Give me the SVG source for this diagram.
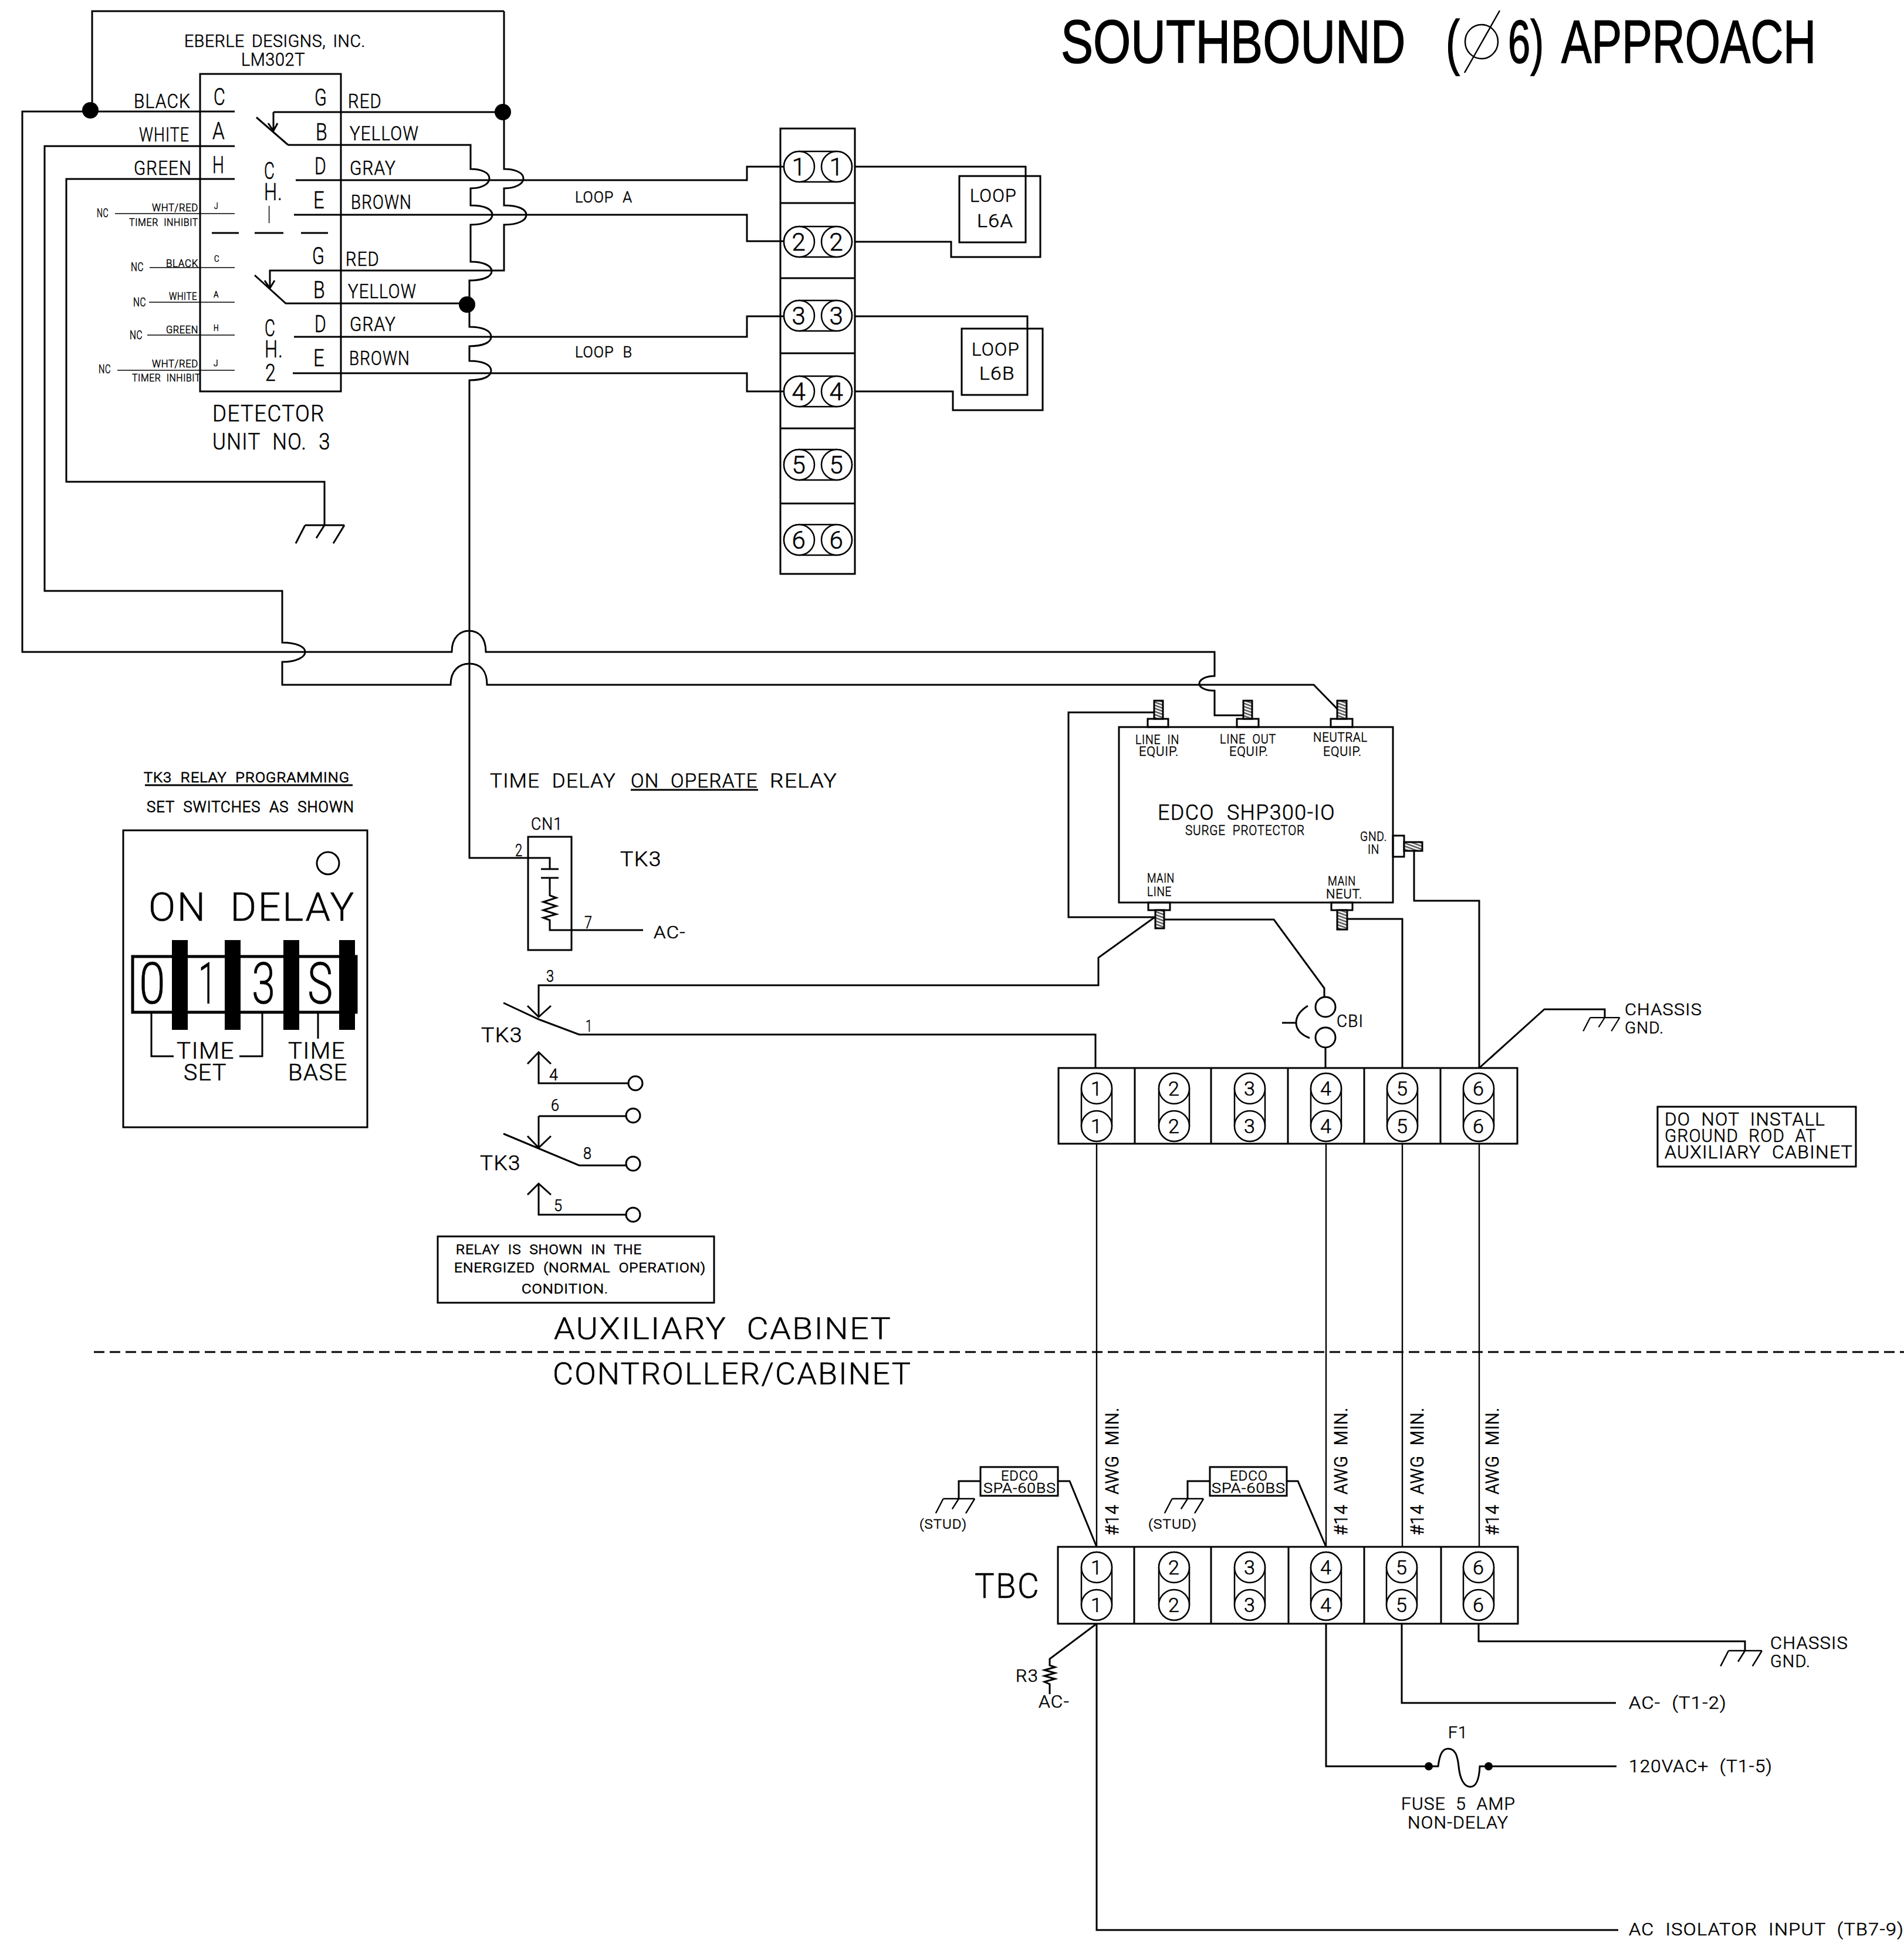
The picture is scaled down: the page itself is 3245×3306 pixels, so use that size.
<svg xmlns="http://www.w3.org/2000/svg" xmlns:xlink="http://www.w3.org/1999/xlink" width="3245" height="3306" viewBox="0 0 3245 3306">
<style>
text{font-family:"Roboto","Liberation Sans",sans-serif;font-weight:300;fill:#000;stroke:#000;stroke-width:.6px;letter-spacing:.04em;word-spacing:.3em}
.t{font-family:"Liberation Sans",sans-serif;font-weight:400;font-size:103px;stroke-width:1.5px;letter-spacing:0;word-spacing:0}
.m{stroke-width:.9px}
.w{fill:none;stroke:#000;stroke-width:3;stroke-linejoin:miter}
.n{fill:none;stroke:#000;stroke-width:1.6}
.b{fill:none;stroke:#000;stroke-width:5}
.p{fill:#fff;stroke:#000;stroke-width:2.5}
.o{fill:none;stroke:#000;stroke-width:2.5}
.d{fill:#000;stroke:none}
.s{fill:url(#hatch);stroke:#000;stroke-width:3}
.dash{fill:none;stroke:#000;stroke-width:3;stroke-dasharray:18 9}
</style>
<defs>
<pattern id="hatch" width="5" height="5" patternUnits="userSpaceOnUse" patternTransform="rotate(20)"><rect width="5" height="5" fill="#fff"/><rect width="5" height="2.5" fill="#555"/></pattern>
<g id="caph"><rect x="-58" y="-26" width="116" height="52" rx="26" class="o"/><circle cx="-32" r="26" class="p"/><circle cx="32" r="26" class="p"/></g>
<g id="capv"><rect x="-26" y="-58" width="52" height="116" rx="26" class="o"/><circle cy="-32" r="26" class="p"/><circle cy="32" r="26" class="p"/></g>
<g id="gnd"><path class="w" d="M-33,0H34M-33,0L-49,31M0,0L-14,22M34,0L15,31"/></g>
</defs>

<g id="connectors">
<path class="w" d="M859,19H157V190"/>
<path class="w" d="M859,19V288C877,288 892,294 892,304C892,314 877,321 859,321V350C882,350 897,356 897,366C897,376 882,383 859,383V461H460V491"/>
<path class="w" d="M466,191H859M466,191V223M457,210L466,223L473,210M437,200L491,247"/>
<path class="w" d="M451,478L460,491L468,478M434,469L487,517H796"/>
<path class="w" d="M491,247H802V288C820,288 834,294 834,304C834,314 820,321 802,321V350C825,350 839,356 839,366C839,376 825,383 802,383V446C822,446 838,452 838,462C838,472 822,478 800,478V557C822,557 837,563 837,574C837,584 822,590 800,590V615C822,615 837,621 837,632C837,642 822,648 800,648V1462H937V1481"/>
<path class="w" d="M504,307H1273V284H1336M501,366H1273V411H1336M501,574H1273V539H1336M499,636H1273V667H1336"/>
<path class="w" d="M400,190H38V1111H770C770,1085 785,1075 799,1075C815,1075 828,1085 828,1111H2070V1152C2055,1152 2044,1158 2044,1165C2044,1172 2055,1177 2070,1177V1219H2119"/>
<path class="w" d="M400,249H76V1007H481V1095C505,1095 520,1102 520,1111C520,1120 505,1128 481,1128V1167H768C768,1142 783,1131 800,1131C818,1131 830,1142 830,1167H2239L2279,1208"/>
<path class="w" d="M400,305H113V821H553V895"/>
<path class="n" d="M196,364H400M255,456H400M254,515H400M251,571H400M200,631H400"/>
<path class="w" d="M1458,284H1748V300M1458,412H1621V438H1773V300H1748M1458,539H1751V560M1458,667H1624V699H1777V560H1751"/>
<path class="w" d="M937,1496V1526L948,1530L926,1537L948,1544L926,1551L948,1558L926,1564L937,1568V1585H1096"/>
<path class="w" d="M918,1733V1679H1872V1632L1968,1563H1821V1214H1967"/>
<path class="w" d="M899,1714L918,1733L939,1714M858,1709L918,1737L987,1763H1867V1820"/>
<path class="w" d="M899,1813L918,1793L939,1813M918,1793V1846H1071"/>
<path class="w" d="M918,1902H1068M918,1902V1956M899,1936L918,1956L939,1936M858,1932L987,1986H1068"/>
<path class="w" d="M899,2036L918,2017L939,2036M918,2017V2070H1068"/>
<path class="w" d="M1984,1567H2171L2257,1684V1700M2259,1785V1820"/>
<path class="w" d="M2185,1743H2209M2229,1714C2216,1722 2209,1732 2209,1743C2209,1755 2217,1763 2232,1769"/>
<path class="w" d="M2297,1566H2390V1820M2410,1451V1535H2521V1820M2521,1820L2632,1720H2735V1734"/>
<path class="n" style="stroke-width:2.4" d="M1869,1949V2636M2260,1949V2636M2390,1949V2636M2521,1949V2636"/>
<path class="dash" d="M160,2304H3245"/>
<path class="w" d="M1869,2767V3289H2758M2260,2767V3010H2435M2389,2767V2902H2754M2520,2767V2797H2974V2813M2537,3010H2755"/>
<path class="w" d="M2435,3010H2451C2454,2986 2460,2980 2468,2980C2480,2980 2484,2991 2486,3010C2488,3031 2495,3045 2506,3045C2516,3045 2521,3031 2522,3010H2537"/>
<path class="w" d="M1869,2767L1789,2827V2838L1798,2841L1780,2846L1798,2851L1780,2856L1798,2861L1780,2866L1789,2870V2887"/>
<path class="w" d="M1671,2524H1634V2554M1803,2524H1823L1869,2636M2062,2524H2024V2554M2193,2524H2212L2260,2636"/>
<circle class="d" cx="154" cy="188" r="14"/>
<circle class="d" cx="857" cy="191" r="14"/>
<circle class="d" cx="796" cy="519" r="14"/>
<circle class="d" cx="2435" cy="3010" r="7"/>
<circle class="d" cx="2537" cy="3010" r="7"/>
<use href="#gnd" x="553" y="895"/>
<use href="#gnd" transform="translate(2735 1734) scale(.75)"/>
<use href="#gnd" transform="translate(2974 2813) scale(.85)"/>
<use href="#gnd" transform="translate(1634 2554) scale(.8)"/>
<use href="#gnd" transform="translate(2024 2554) scale(.8)"/>
</g>

<g id="title">
<text class="t" transform="translate(1808 107) scale(.802 1)">SOUTHBOUND</text>
<text class="t" transform="translate(2464 107) scale(.7 1)">(</text>
<ellipse cx="2525" cy="71" rx="28" ry="29" class="o"/>
<path class="o" d="M2556,18L2496,124"/>
<text class="t" transform="translate(2570 107) scale(.666 1)">6)</text>
<text class="t" transform="translate(2661 107) scale(.751 1)">APPROACH</text>
</g>

<g id="detector-unit">
<rect x="341" y="126" width="240" height="541" class="w"/>
<path class="w" d="M361,397H407M434,397H483M513,397H559"/>
<text><tspan x="314" y="80" font-size="30" textLength="309" lengthAdjust="spacingAndGlyphs">EBERLE DESIGNS, INC.</tspan><tspan x="411" y="112" font-size="31" textLength="109" lengthAdjust="spacingAndGlyphs">LM302T</tspan></text>
<text x="228" y="184" font-size="34" textLength="97" lengthAdjust="spacingAndGlyphs">BLACK</text>
<text x="237" y="241" font-size="34" textLength="86" lengthAdjust="spacingAndGlyphs">WHITE</text>
<text x="228" y="298" font-size="34" textLength="99" lengthAdjust="spacingAndGlyphs">GREEN</text>
<text x="364" y="179" font-size="41" textLength="21" lengthAdjust="spacingAndGlyphs">C</text>
<text x="362" y="237" font-size="41" textLength="22" lengthAdjust="spacingAndGlyphs">A</text>
<text x="362" y="295" font-size="41" textLength="21" lengthAdjust="spacingAndGlyphs">H</text>
<text x="536" y="180" font-size="41" textLength="22" lengthAdjust="spacingAndGlyphs">G</text>
<text x="538" y="239" font-size="41" textLength="21" lengthAdjust="spacingAndGlyphs">B</text>
<text x="536" y="297" font-size="41" textLength="21" lengthAdjust="spacingAndGlyphs">D</text>
<text x="534" y="355" font-size="41" textLength="20" lengthAdjust="spacingAndGlyphs">E</text>
<text x="593" y="184" font-size="34" textLength="58" lengthAdjust="spacingAndGlyphs">RED</text>
<text x="596" y="239" font-size="34" textLength="118" lengthAdjust="spacingAndGlyphs">YELLOW</text>
<text x="596" y="298" font-size="34" textLength="79" lengthAdjust="spacingAndGlyphs">GRAY</text>
<text x="598" y="356" font-size="34" textLength="104" lengthAdjust="spacingAndGlyphs">BROWN</text>
<text font-size="41"><tspan x="450" y="305" textLength="19" lengthAdjust="spacingAndGlyphs">C</tspan><tspan x="450" y="341" textLength="32" lengthAdjust="spacingAndGlyphs">H.</tspan><tspan x="456" y="380" textLength="6" lengthAdjust="spacingAndGlyphs">I</tspan></text>
<text x="165" y="370" font-size="20" textLength="20" lengthAdjust="spacingAndGlyphs">NC</text>
<text font-size="19"><tspan x="259" y="360" textLength="79" lengthAdjust="spacingAndGlyphs">WHT/RED</tspan><tspan x="220" y="385" textLength="118" lengthAdjust="spacingAndGlyphs">TIMER INHIBIT</tspan></text>
<text x="365" y="356" font-size="15" textLength="7" lengthAdjust="spacingAndGlyphs">J</text>
<text x="532" y="450" font-size="41" textLength="22" lengthAdjust="spacingAndGlyphs">G</text>
<text x="534" y="508" font-size="41" textLength="21" lengthAdjust="spacingAndGlyphs">B</text>
<text x="536" y="566" font-size="41" textLength="21" lengthAdjust="spacingAndGlyphs">D</text>
<text x="534" y="624" font-size="41" textLength="20" lengthAdjust="spacingAndGlyphs">E</text>
<text x="589" y="453" font-size="34" textLength="58" lengthAdjust="spacingAndGlyphs">RED</text>
<text x="593" y="508" font-size="34" textLength="117" lengthAdjust="spacingAndGlyphs">YELLOW</text>
<text x="596" y="564" font-size="34" textLength="79" lengthAdjust="spacingAndGlyphs">GRAY</text>
<text x="595" y="622" font-size="34" textLength="104" lengthAdjust="spacingAndGlyphs">BROWN</text>
<text x="283" y="455" font-size="19" textLength="55" lengthAdjust="spacingAndGlyphs">BLACK</text>
<text x="365" y="446" font-size="15" textLength="9" lengthAdjust="spacingAndGlyphs">C</text>
<text x="223" y="462" font-size="20" textLength="22" lengthAdjust="spacingAndGlyphs">NC</text>
<text x="288" y="511" font-size="19" textLength="48" lengthAdjust="spacingAndGlyphs">WHITE</text>
<text x="364" y="507" font-size="15" textLength="9" lengthAdjust="spacingAndGlyphs">A</text>
<text x="227" y="522" font-size="20" textLength="22" lengthAdjust="spacingAndGlyphs">NC</text>
<text x="283" y="568" font-size="19" textLength="55" lengthAdjust="spacingAndGlyphs">GREEN</text>
<text x="364" y="564" font-size="15" textLength="9" lengthAdjust="spacingAndGlyphs">H</text>
<text x="221" y="578" font-size="20" textLength="22" lengthAdjust="spacingAndGlyphs">NC</text>
<text font-size="19"><tspan x="259" y="626" textLength="79" lengthAdjust="spacingAndGlyphs">WHT/RED</tspan><tspan x="225" y="650" textLength="117" lengthAdjust="spacingAndGlyphs">TIMER INHIBIT</tspan></text>
<text x="364" y="624" font-size="15" textLength="8" lengthAdjust="spacingAndGlyphs">J</text>
<text x="168" y="636" font-size="20" textLength="21" lengthAdjust="spacingAndGlyphs">NC</text>
<text font-size="41"><tspan x="451" y="573" textLength="19" lengthAdjust="spacingAndGlyphs">C</tspan><tspan x="451" y="609" textLength="32" lengthAdjust="spacingAndGlyphs">H.</tspan><tspan x="452" y="649" textLength="19" lengthAdjust="spacingAndGlyphs">2</tspan></text>
<text font-size="38"><tspan x="362" y="718" textLength="192" lengthAdjust="spacingAndGlyphs">DETECTOR</tspan><tspan x="362" y="766" textLength="202" lengthAdjust="spacingAndGlyphs">UNIT NO. 3</tspan></text>
<text x="980" y="345" font-size="25" textLength="98" lengthAdjust="spacingAndGlyphs">LOOP A</text>
<text x="980" y="609" font-size="25" textLength="98" lengthAdjust="spacingAndGlyphs">LOOP B</text>
</g>

<g id="loop-terminal-block" text-anchor="middle">
<path class="w" d="M1330,219H1457V978H1330ZM1330,346H1457M1330,474H1457M1330,602H1457M1330,730H1457M1330,858H1457"/>
<use href="#caph" x="1394" y="284"/><use href="#caph" x="1394" y="412"/><use href="#caph" x="1394" y="538"/><use href="#caph" x="1394" y="667"/><use href="#caph" x="1394" y="792"/><use href="#caph" x="1394" y="920"/>
<text x="1362" y="299" font-size="42">1</text><text x="1426" y="299" font-size="42">1</text>
<text x="1362" y="427" font-size="42">2</text><text x="1426" y="427" font-size="42">2</text>
<text x="1362" y="553" font-size="42">3</text><text x="1426" y="553" font-size="42">3</text>
<text x="1362" y="682" font-size="42">4</text><text x="1426" y="682" font-size="42">4</text>
<text x="1362" y="807" font-size="42">5</text><text x="1426" y="807" font-size="42">5</text>
<text x="1362" y="935" font-size="42">6</text><text x="1426" y="935" font-size="42">6</text>
</g>
<g id="loop-l6a">
<rect x="1635" y="300" width="113" height="113" class="w"/>
<text font-size="32"><tspan x="1653" y="344" textLength="80" lengthAdjust="spacingAndGlyphs">LOOP</tspan><tspan x="1665" y="387" textLength="62" lengthAdjust="spacingAndGlyphs">L6A</tspan></text>
</g>
<g id="loop-l6b">
<rect x="1639" y="560" width="112" height="113" class="w"/>
<text font-size="32"><tspan x="1656" y="606" textLength="82" lengthAdjust="spacingAndGlyphs">LOOP</tspan><tspan x="1669" y="647" textLength="61" lengthAdjust="spacingAndGlyphs">L6B</tspan></text>
</g>

<g id="surge-protector">
<rect x="1907" y="1239" width="467" height="299" class="w"/>
<rect x="1956" y="1225" width="35" height="14" class="w"/><rect x="1967" y="1194" width="15" height="31" class="s"/>
<rect x="2108" y="1225" width="37" height="14" class="w"/><rect x="2119" y="1194" width="15" height="31" class="s"/>
<rect x="2268" y="1225" width="37" height="14" class="w"/><rect x="2279" y="1194" width="16" height="31" class="s"/>
<rect x="1957" y="1538" width="37" height="13" class="w"/><rect x="1969" y="1551" width="15" height="31" class="s"/>
<rect x="2269" y="1538" width="36" height="13" class="w"/><rect x="2279" y="1551" width="17" height="33" class="s"/>
<rect x="2374" y="1424" width="19" height="36" class="w"/><rect x="2393" y="1435" width="31" height="15" class="s"/>
<text font-size="22"><tspan x="1935" y="1268" textLength="75" lengthAdjust="spacingAndGlyphs">LINE IN</tspan><tspan x="1941" y="1288" textLength="68" lengthAdjust="spacingAndGlyphs">EQUIP.</tspan></text>
<text font-size="22"><tspan x="2079" y="1267" textLength="96" lengthAdjust="spacingAndGlyphs">LINE OUT</tspan><tspan x="2095" y="1288" textLength="67" lengthAdjust="spacingAndGlyphs">EQUIP.</tspan></text>
<text font-size="22"><tspan x="2238" y="1264" textLength="93" lengthAdjust="spacingAndGlyphs">NEUTRAL</tspan><tspan x="2255" y="1288" textLength="66" lengthAdjust="spacingAndGlyphs">EQUIP.</tspan></text>
<text x="1973" y="1397" font-size="37" textLength="303" lengthAdjust="spacingAndGlyphs">EDCO SHP300-IO</text>
<text x="2020" y="1423" font-size="24" textLength="204" lengthAdjust="spacingAndGlyphs">SURGE PROTECTOR</text>
<text font-size="22"><tspan x="2318" y="1433" textLength="46" lengthAdjust="spacingAndGlyphs">GND.</tspan><tspan x="2331" y="1455" textLength="20" lengthAdjust="spacingAndGlyphs">IN</tspan></text>
<text font-size="22"><tspan x="1955" y="1504" textLength="47" lengthAdjust="spacingAndGlyphs">MAIN</tspan><tspan x="1955" y="1527" textLength="42" lengthAdjust="spacingAndGlyphs">LINE</tspan></text>
<text font-size="22"><tspan x="2263" y="1509" textLength="48" lengthAdjust="spacingAndGlyphs">MAIN</tspan><tspan x="2260" y="1531" textLength="62" lengthAdjust="spacingAndGlyphs">NEUT.</tspan></text>
</g>

<g id="cb1">
<circle cx="2259" cy="1716" r="17" class="w"/><circle cx="2259" cy="1768" r="17" class="w"/>
<text x="2278" y="1750" font-size="29" textLength="46" lengthAdjust="spacingAndGlyphs">CBI</text>
</g>

<g id="chassis-gnd-aux">
<text font-size="28"><tspan x="2769" y="1730" textLength="132" lengthAdjust="spacingAndGlyphs">CHASSIS</tspan><tspan x="2769" y="1761" textLength="67" lengthAdjust="spacingAndGlyphs">GND.</tspan></text>
</g>

<g id="aux-terminal-block" text-anchor="middle">
<path class="w" d="M1804,1820H2586V1949H1804ZM1934,1820V1949M2064,1820V1949M2195,1820V1949M2325,1820V1949M2455,1820V1949"/>
<use href="#capv" x="1869" y="1887"/><use href="#capv" x="2001" y="1887"/><use href="#capv" x="2130" y="1887"/><use href="#capv" x="2260" y="1887"/><use href="#capv" x="2390" y="1887"/><use href="#capv" x="2520" y="1887"/>
<text x="1869" y="1867" font-size="34">1</text><text x="1869" y="1931" font-size="34">1</text>
<text x="2001" y="1867" font-size="34">2</text><text x="2001" y="1931" font-size="34">2</text>
<text x="2130" y="1867" font-size="34">3</text><text x="2130" y="1931" font-size="34">3</text>
<text x="2260" y="1867" font-size="34">4</text><text x="2260" y="1931" font-size="34">4</text>
<text x="2390" y="1867" font-size="34">5</text><text x="2390" y="1931" font-size="34">5</text>
<text x="2520" y="1867" font-size="34">6</text><text x="2520" y="1931" font-size="34">6</text>
</g>

<g id="ground-rod-note">
<rect x="2825" y="1886" width="338" height="102" class="w"/>
<text font-size="31"><tspan x="2837" y="1918" textLength="274" lengthAdjust="spacingAndGlyphs">DO NOT INSTALL</tspan><tspan x="2837" y="1946" textLength="259" lengthAdjust="spacingAndGlyphs">GROUND ROD AT</tspan><tspan x="2837" y="1974" textLength="321" lengthAdjust="spacingAndGlyphs">AUXILIARY CABINET</tspan></text>
</g>

<g id="tk3-programming">
<text class="m" x="245" y="1333" font-size="24" textLength="351" lengthAdjust="spacingAndGlyphs">TK3 RELAY PROGRAMMING</text>
<path class="w" d="M247,1338H601"/>
<text class="m" x="250" y="1384" font-size="25" textLength="354" lengthAdjust="spacingAndGlyphs">SET SWITCHES AS SHOWN</text>
<rect x="210" y="1415" width="416" height="506" class="w"/>
<circle cx="559" cy="1471" r="19" class="w"/>
<text x="253" y="1569" font-size="66" textLength="353" lengthAdjust="spacingAndGlyphs">ON DELAY</text>
<rect x="226" y="1630" width="381" height="95" class="b"/>
<rect class="d" x="293" y="1602" width="27" height="153"/><rect class="d" x="383" y="1602" width="27" height="153"/><rect class="d" x="483" y="1602" width="27" height="153"/><rect class="d" x="578" y="1602" width="27" height="153"/>
<text x="237" y="1710" font-size="98" textLength="48" lengthAdjust="spacingAndGlyphs">0</text>
<text x="338" y="1710" font-size="98" textLength="33" lengthAdjust="spacingAndGlyphs">1</text>
<text x="429" y="1710" font-size="98" textLength="43" lengthAdjust="spacingAndGlyphs">3</text>
<text x="524" y="1710" font-size="98" textLength="46" lengthAdjust="spacingAndGlyphs">S</text>
<path class="w" d="M258,1725V1800H296M408,1800H447V1725M542,1726V1770"/>
<text font-size="39"><tspan x="301" y="1804" textLength="99" lengthAdjust="spacingAndGlyphs">TIME</tspan><tspan x="313" y="1841" textLength="74" lengthAdjust="spacingAndGlyphs">SET</tspan></text>
<text font-size="39"><tspan x="491" y="1804" textLength="98" lengthAdjust="spacingAndGlyphs">TIME</tspan><tspan x="491" y="1841" textLength="102" lengthAdjust="spacingAndGlyphs">BASE</tspan></text>
</g>

<g id="tk3-relay">
<text x="835" y="1342" font-size="34" textLength="215" lengthAdjust="spacingAndGlyphs">TIME DELAY</text>
<text x="1075" y="1342" font-size="34" textLength="217" lengthAdjust="spacingAndGlyphs">ON OPERATE</text>
<path class="w" d="M1075,1346H1292"/>
<text x="1312" y="1342" font-size="34" textLength="115" lengthAdjust="spacingAndGlyphs">RELAY</text>
<rect x="900" y="1426" width="74" height="193" class="w"/>
<path class="w" d="M922,1481H952M922,1496H952"/>
<text x="905" y="1414" font-size="30" textLength="54" lengthAdjust="spacingAndGlyphs">CN1</text>
<text x="878" y="1459" font-size="30" textLength="13" lengthAdjust="spacingAndGlyphs">2</text>
<text x="996" y="1582" font-size="30" textLength="14" lengthAdjust="spacingAndGlyphs">7</text>
<text x="1057" y="1476" font-size="35" textLength="71" lengthAdjust="spacingAndGlyphs">TK3</text>
<text x="1114" y="1599" font-size="30" textLength="55" lengthAdjust="spacingAndGlyphs">AC-</text>
<text x="820" y="1776" font-size="35" textLength="71" lengthAdjust="spacingAndGlyphs">TK3</text>
<text x="818" y="1994" font-size="35" textLength="70" lengthAdjust="spacingAndGlyphs">TK3</text>
<text x="931" y="1673" font-size="27" textLength="14" lengthAdjust="spacingAndGlyphs">3</text>
<text x="998" y="1758" font-size="27" textLength="12" lengthAdjust="spacingAndGlyphs">1</text>
<text x="936" y="1841" font-size="27" textLength="16" lengthAdjust="spacingAndGlyphs">4</text>
<text x="939" y="1893" font-size="27" textLength="15" lengthAdjust="spacingAndGlyphs">6</text>
<text x="994" y="1975" font-size="27" textLength="15" lengthAdjust="spacingAndGlyphs">8</text>
<text x="944" y="2064" font-size="27" textLength="15" lengthAdjust="spacingAndGlyphs">5</text>
<circle cx="1083" cy="1846" r="12" class="w"/><circle cx="1079" cy="1901" r="12" class="w"/><circle cx="1079" cy="1983" r="12" class="w"/><circle cx="1079" cy="2070" r="12" class="w"/>
</g>

<g id="relay-note">
<rect x="746" y="2107" width="471" height="113" class="w"/>
<text class="m" font-size="22"><tspan x="777" y="2137" textLength="317" lengthAdjust="spacingAndGlyphs">RELAY IS SHOWN IN THE</tspan><tspan x="774" y="2168" textLength="429" lengthAdjust="spacingAndGlyphs">ENERGIZED (NORMAL OPERATION)</tspan><tspan x="889" y="2204" textLength="148" lengthAdjust="spacingAndGlyphs">CONDITION.</tspan></text>
</g>

<g id="cabinet-labels">
<text x="944" y="2282" font-size="51" textLength="576" lengthAdjust="spacingAndGlyphs">AUXILIARY CABINET</text>
<text x="942" y="2359" font-size="51" textLength="612" lengthAdjust="spacingAndGlyphs">CONTROLLER/CABINET</text>
</g>

<g id="wire-notes">
<text class="m" transform="translate(1906 2616) rotate(-90)" font-size="31" textLength="218" lengthAdjust="spacingAndGlyphs">#14 AWG MIN.</text>
<text class="m" transform="translate(2296 2616) rotate(-90)" font-size="31" textLength="218" lengthAdjust="spacingAndGlyphs">#14 AWG MIN.</text>
<text class="m" transform="translate(2426 2616) rotate(-90)" font-size="31" textLength="218" lengthAdjust="spacingAndGlyphs">#14 AWG MIN.</text>
<text class="m" transform="translate(2554 2616) rotate(-90)" font-size="31" textLength="218" lengthAdjust="spacingAndGlyphs">#14 AWG MIN.</text>
</g>

<g id="edco-spa-1">
<rect x="1671" y="2500" width="132" height="49" class="w"/>
<text font-size="24"><tspan x="1706" y="2523" textLength="64" lengthAdjust="spacingAndGlyphs">EDCO</tspan><tspan x="1676" y="2544" textLength="124" lengthAdjust="spacingAndGlyphs">SPA-60BS</tspan></text>
<text x="1567" y="2605" font-size="22" textLength="81" lengthAdjust="spacingAndGlyphs">(STUD)</text>
</g>
<g id="edco-spa-2">
<rect x="2062" y="2500" width="131" height="49" class="w"/>
<text font-size="24"><tspan x="2096" y="2523" textLength="65" lengthAdjust="spacingAndGlyphs">EDCO</tspan><tspan x="2065" y="2544" textLength="126" lengthAdjust="spacingAndGlyphs">SPA-60BS</tspan></text>
<text x="1957" y="2605" font-size="22" textLength="83" lengthAdjust="spacingAndGlyphs">(STUD)</text>
</g>

<g id="tbc-terminal-block" text-anchor="middle">
<path class="w" d="M1803,2636H2587V2767H1803ZM1933,2636V2767M2064,2636V2767M2196,2636V2767M2325,2636V2767M2456,2636V2767"/>
<use href="#capv" x="1869" y="2703"/><use href="#capv" x="2001" y="2703"/><use href="#capv" x="2130" y="2703"/><use href="#capv" x="2260" y="2703"/><use href="#capv" x="2389" y="2703"/><use href="#capv" x="2520" y="2703"/>
<text x="1869" y="2683" font-size="34">1</text><text x="1869" y="2747" font-size="34">1</text>
<text x="2001" y="2683" font-size="34">2</text><text x="2001" y="2747" font-size="34">2</text>
<text x="2130" y="2683" font-size="34">3</text><text x="2130" y="2747" font-size="34">3</text>
<text x="2260" y="2683" font-size="34">4</text><text x="2260" y="2747" font-size="34">4</text>
<text x="2389" y="2683" font-size="34">5</text><text x="2389" y="2747" font-size="34">5</text>
<text x="2520" y="2683" font-size="34">6</text><text x="2520" y="2747" font-size="34">6</text>
</g>
<g id="tbc-labels">
<text x="1661" y="2723" font-size="59" textLength="112" lengthAdjust="spacingAndGlyphs">TBC</text>
<text font-size="30"><tspan x="1731" y="2866" textLength="39" lengthAdjust="spacingAndGlyphs">R3</tspan><tspan x="1770" y="2910" textLength="53" lengthAdjust="spacingAndGlyphs">AC-</tspan></text>
<text font-size="29"><tspan x="3017" y="2810" textLength="133" lengthAdjust="spacingAndGlyphs">CHASSIS</tspan><tspan x="3017" y="2841" textLength="69" lengthAdjust="spacingAndGlyphs">GND.</tspan></text>
<text x="2776" y="2912" font-size="29" textLength="167" lengthAdjust="spacingAndGlyphs">AC- (T1-2)</text>
<text x="2468" y="2962" font-size="28" textLength="34" lengthAdjust="spacingAndGlyphs">F1</text>
<text x="2776" y="3020" font-size="29" textLength="245" lengthAdjust="spacingAndGlyphs">120VAC+ (T1-5)</text>
<text font-size="29"><tspan x="2388" y="3084" textLength="195" lengthAdjust="spacingAndGlyphs">FUSE 5 AMP</tspan><tspan x="2399" y="3116" textLength="172" lengthAdjust="spacingAndGlyphs">NON-DELAY</tspan></text>
<text x="2776" y="3298" font-size="30" textLength="469" lengthAdjust="spacingAndGlyphs">AC ISOLATOR INPUT (TB7-9)</text>
</g>
</svg>
